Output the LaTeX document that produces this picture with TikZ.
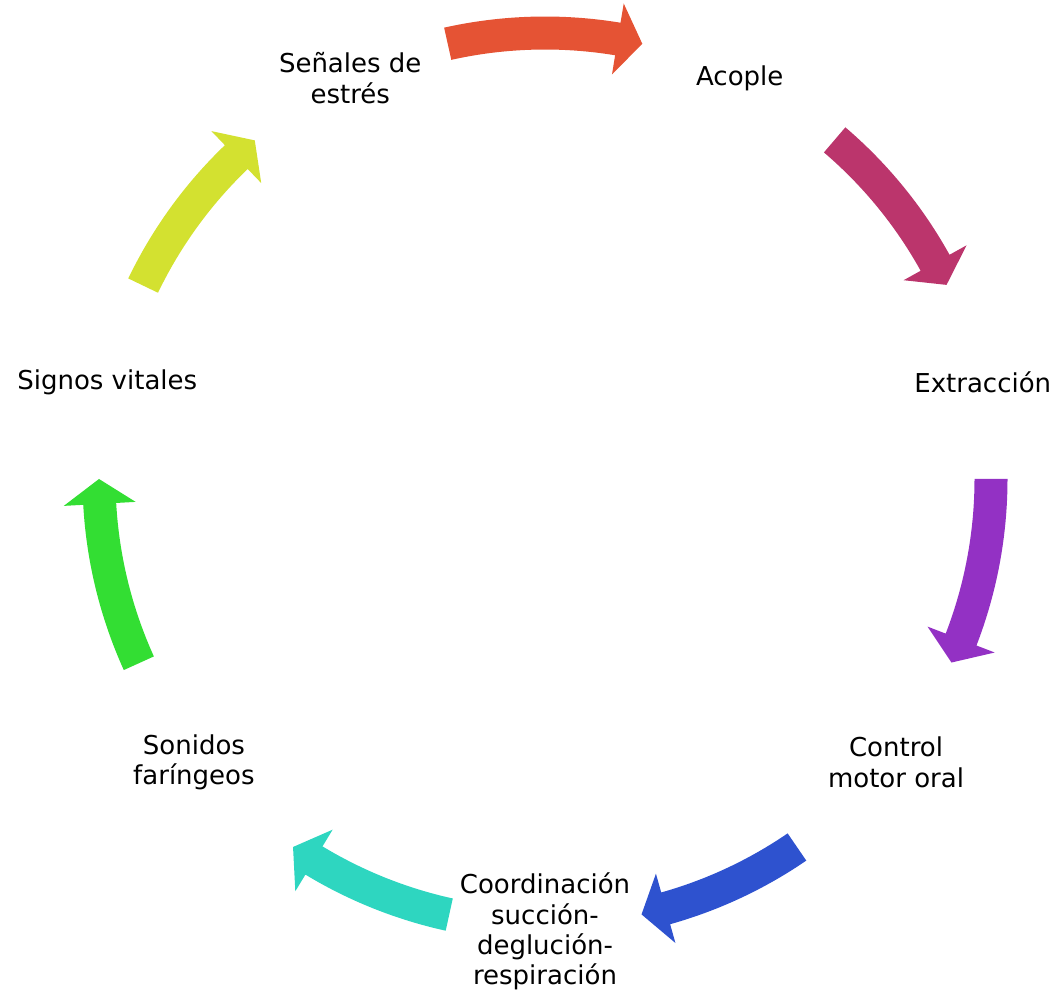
\documentclass[tikz,border=0pt]{standalone}
\usepackage{fontspec}
\setmainfont{DejaVu Sans}
\definecolor{cycred}{RGB}{229,83,52}
\definecolor{cycmagenta}{RGB}{187,53,108}
\definecolor{cycpurple}{RGB}{147,49,196}
\definecolor{cycblue}{RGB}{46,82,207}
\definecolor{cycteal}{RGB}{46,214,192}
\definecolor{cycgreen}{RGB}{51,222,51}
\definecolor{cycyellow}{RGB}{211,225,48}
% curved block arrow: tail angle, tip angle, colour
\newcommand{\cycarrow}[3]{%
  \fill[#3] ({#1}:429.5) arc[start angle=#1, end angle=#2+3.2, radius=429.5]
    -- ({#2+3.2}:410) -- ({#2}:446) -- ({#2+3.2}:482) -- ({#2+3.2}:462.5)
    arc[start angle=#2+3.2, end angle=#1, radius=462.5] -- cycle;}
\tikzset{cyclabel/.style={align=center,inner sep=0pt,yshift=-1.75pt,font=\fontsize{13}{15.2}\selectfont}}

\begin{document}
\begin{tikzpicture}[x=0.5pt,y=0.5pt]
        \useasboundingbox (-545,-515) rectangle (513,479);
        \node[cyclabel] at (115.71:449) (senales) {Señales de\\estrés};
        \node[cyclabel] at (64.29:449) (acople) {Acople};
        \node[cyclabel] at (12.86:449) (extraccion) {Extracción};
        \node[cyclabel] at (-38.57:449) (control) {Control\\motor oral};
        \node[cyclabel] at (-90:449) (coordinacion) {Coordinación\\succión-\\deglución-\\respiración};
        \node[cyclabel] at (-141.43:449) (sonidos) {Sonidos\\faríngeos};
        \node[cyclabel] at (167.14:449) (signos) {Signos vitales};
        \cycarrow{102.6}{77.4}{cycred}
        \cycarrow{49.5}{25.8}{cycmagenta}
        \cycarrow{0}{-24.3}{cycpurple}
        \cycarrow{-55.6}{-77.5}{cycblue}
        \cycarrow{-102.4}{-124.4}{cycteal}
        \cycarrow{204.4}{180}{cycgreen}
        \cycarrow{154.3}{130.6}{cycyellow}
    \end{tikzpicture}
\end{document}
